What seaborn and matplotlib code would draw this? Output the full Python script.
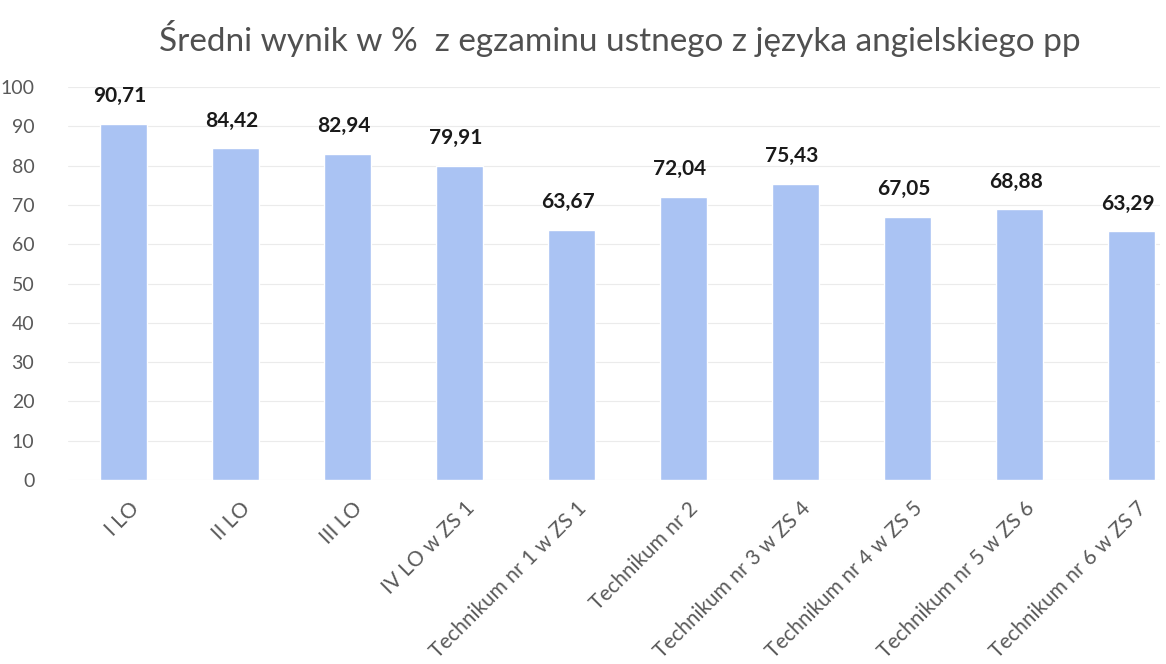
import matplotlib
matplotlib.use('Agg')
import matplotlib.pyplot as plt
import matplotlib.transforms as mtransforms
import seaborn as sns
import pandas as pd

szkoly = ['I LO', 'II LO', 'III LO', 'IV LO w ZS 1', 'Technikum nr 1 w ZS 1',
          'Technikum nr 2', 'Technikum nr 3 w ZS 4', 'Technikum nr 4 w ZS 5',
          'Technikum nr 5 w ZS 6', 'Technikum nr 6 w ZS 7']
wyniki = [90.71, 84.42, 82.94, 79.91, 63.67, 72.04, 75.43, 67.05, 68.88, 63.29]
yticks = list(range(0, 101, 10))

sns.set_theme(style='white')
plt.rcParams['font.family'] = ['Lato', 'DejaVu Sans']

df = pd.DataFrame({'szkola': szkoly, 'wynik': wyniki})

fig = plt.figure(figsize=(11.66, 6.64), dpi=100)
ax = fig.add_axes([0.058, 0.277, 0.937, 0.592])
sns.barplot(data=df, x='szkola', y='wynik', color='#aac3f3', width=0.42,
            saturation=1, ax=ax, zorder=2)

ax.set_xlim(-0.5, 9.26)
ax.set_ylim(0, 100)
ax.set_yticks(yticks)
ax.yaxis.grid(True, color='#ebebeb', linewidth=0.8, zorder=0)
ax.set_axisbelow(True)
for s in ax.spines.values():
    s.set_visible(False)
ax.tick_params(axis='y', labelsize=14, labelcolor='#595959', length=0, pad=24)
ax.tick_params(axis='x', labelsize=15, labelcolor='#595959', length=0, pad=13)
off = mtransforms.ScaledTranslation(5 / 100, 0, fig.dpi_scale_trans)
for lab in ax.get_xticklabels():
    lab.set_rotation(45)
    lab.set_ha('right')
    lab.set_rotation_mode('anchor')
    lab.set_transform(lab.get_transform() + off)
ax.set_xlabel('')
ax.set_ylabel('')

for i, v in enumerate(wyniki):
    ax.text(i - 0.03, v + 4.5, f'{v:.2f}'.replace('.', ','), ha='center', va='bottom',
            fontsize=15, fontweight='bold', color='#1a1a1a')

fig.text(0.532, 0.942, 'Średni wynik w %  z egzaminu ustnego z języka angielskiego pp',
         ha='center', va='center', fontsize=24, color='#505050')

fig.savefig('out.png', dpi=100, facecolor='white')
